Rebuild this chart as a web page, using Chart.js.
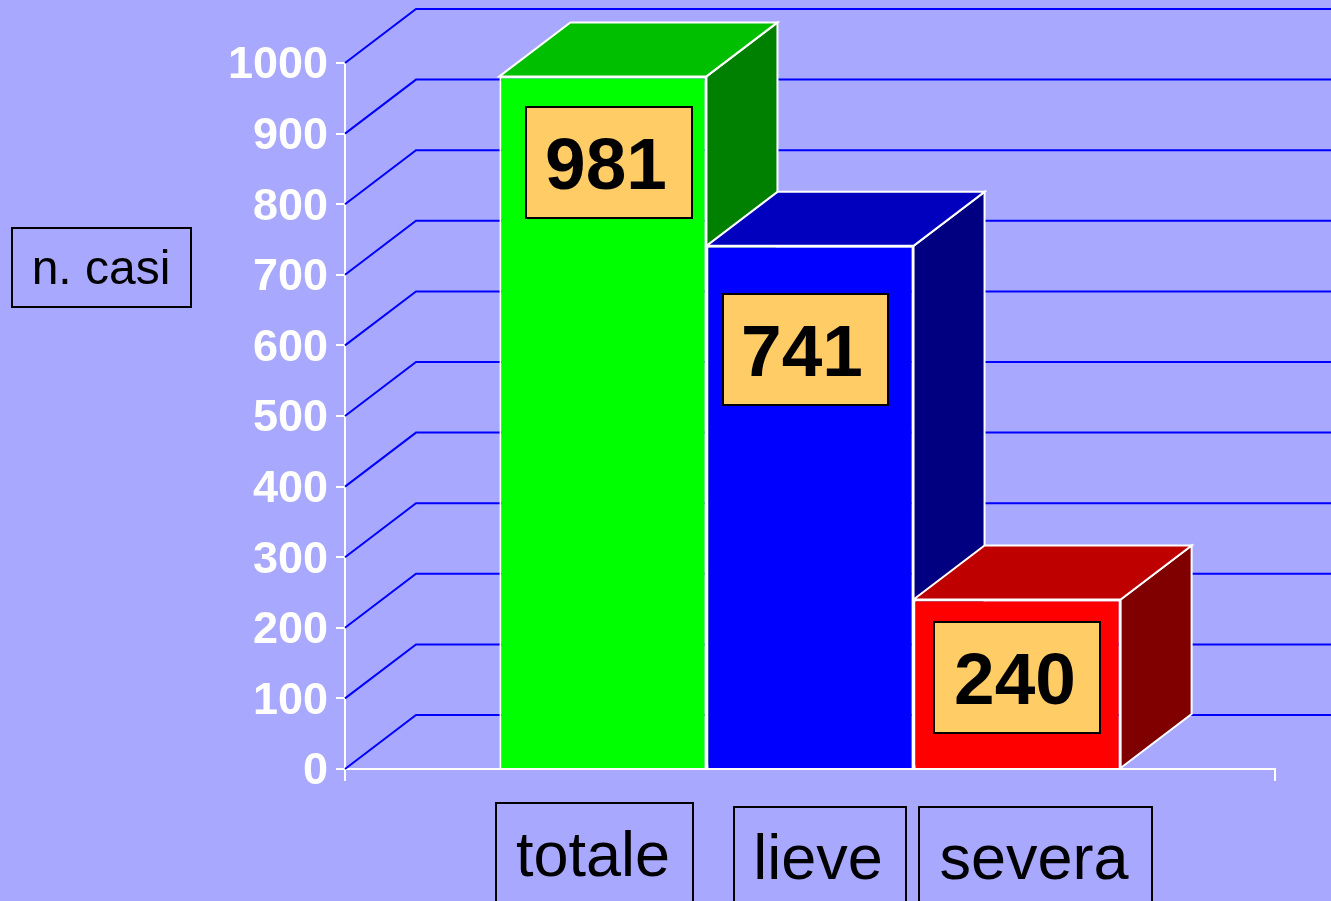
<!DOCTYPE html>
<html lang="it">
<head>
<meta charset="utf-8">
<title>n. casi</title>
<script src="https://cdn.jsdelivr.net/npm/chart.js@4/dist/chart.umd.min.js"></script>
<style>
    html, body { margin: 0; padding: 0; background: #a8a8ff; overflow: hidden; }
    canvas { display: block; }
</style>
</head>
<body>
<canvas id="myChart" width="1331" height="901"></canvas>
<script>
// chart values
const categories = ['casi'];
const seriesNames = ['totale', 'lieve', 'severa'];
const seriesValues = [981, 741, 240];
const axisTitle = 'n. casi';

// colours of each bar: front, top and side
const frontColors = ['#00ff00', '#0000ff', '#ff0000'];
const topColors = ['#00be00', '#0000be', '#be0000'];
const sideColors = ['#008000', '#000080', '#800000'];

// how far the 3d walls go back, in pixels
const depthX = 71;
const depthY = 54;

// text boxes that sit on top of the chart: x, y, w, h, text baseline
const valueBoxes = [
    { x: 526, y: 107, w: 166, h: 111, tx: 606, ty: 189 },
    { x: 723, y: 294, w: 165, h: 111, tx: 802, ty: 376 },
    { x: 934, y: 622, w: 166, h: 111, tx: 1015, ty: 704 }
];
const nameBoxes = [
    { x: 496, y: 803, w: 197, h: 110, tx: 593, ty: 876 },
    { x: 734, y: 807, w: 172, h: 106, tx: 818, ty: 879 },
    { x: 919, y: 807, w: 233, h: 106, tx: 1034, ty: 879 }
];

/**
 * Draw a filled polygon with a white edge.
 */
function drawFace(ctx, points, color) {
    ctx.beginPath();
    points.forEach((p, i) => i ? ctx.lineTo(p[0], p[1]) : ctx.moveTo(p[0], p[1]));
    ctx.closePath();
    ctx.fillStyle = color;
    ctx.fill();
    ctx.lineWidth = 2;
    ctx.strokeStyle = '#ffffff';
    ctx.stroke();
}

/**
 * Draw a box with a black edge and centered text.
 */
function drawBox(ctx, box, text, fill, font) {
    if (fill) {
        ctx.fillStyle = fill;
        ctx.fillRect(box.x, box.y, box.w, box.h);
    }
    ctx.lineWidth = 2;
    ctx.strokeStyle = '#000000';
    ctx.strokeRect(box.x, box.y, box.w, box.h);
    ctx.font = font;
    ctx.fillStyle = '#000000';
    ctx.textAlign = 'center';
    ctx.textBaseline = 'alphabetic';
    ctx.fillText(text, box.tx, box.ty);
}

// slanted grid lines and the top and side of every bar
const depthPlugin = {
    id: 'depth',
    beforeDatasetsDraw(chart) {
        const ctx = chart.ctx;
        const yScale = chart.scales.y;
        const left = chart.chartArea.left;

        ctx.save();
        ctx.lineWidth = 2;
        ctx.strokeStyle = '#0000ff';
        for (const tick of yScale.ticks) {
            const y = yScale.getPixelForValue(tick.value);
            ctx.beginPath();
            ctx.moveTo(left, y);
            ctx.lineTo(left + depthX, y - depthY);
            ctx.lineTo(chart.width, y - depthY);
            ctx.stroke();
        }

        seriesValues.forEach((value, i) => {
            const bar = chart.getDatasetMeta(i).data[0];
            const x1 = bar.x - bar.width / 2;
            const x2 = bar.x + bar.width / 2;
            const top = bar.y;
            const base = bar.base;
            drawFace(ctx, [[x2, top], [x2 + depthX, top - depthY], [x2 + depthX, base - depthY], [x2, base]], sideColors[i]);
            drawFace(ctx, [[x1, top], [x1 + depthX, top - depthY], [x2 + depthX, top - depthY], [x2, top]], topColors[i]);
        });
        ctx.restore();
    },
    afterDraw(chart) {
        const ctx = chart.ctx;
        ctx.save();
        seriesValues.forEach((value, i) => {
            drawBox(ctx, valueBoxes[i], String(value), '#ffcc66', 'bold 73px "Liberation Sans"');
        });
        seriesNames.forEach((name, i) => {
            drawBox(ctx, nameBoxes[i], name, null, '63px "Liberation Sans"');
        });
        drawBox(ctx, { x: 12, y: 228, w: 179, h: 79, tx: 101, ty: 284 }, axisTitle, null, '48px "Liberation Sans"');
        ctx.restore();
    }
};

// get the canvas context
const ctx = document.getElementById('myChart').getContext('2d');

// initialize Chart.js with the context
new Chart(ctx, {
    type: 'bar',
    plugins: [depthPlugin],
    data: {
        labels: categories,
        datasets: seriesNames.map((name, i) => ({
            label: name,
            data: [seriesValues[i]],
            backgroundColor: frontColors[i],
            borderColor: '#ffffff',
            borderWidth: 2,
            borderSkipped: 'bottom',
            categoryPercentage: 0.668,
            barPercentage: 1
        }))
    },
    options: {
        responsive: false,
        animation: false,
        layout: { padding: { left: 0, top: 63, right: 56, bottom: 132 } },
        plugins: {
            legend: { display: false },
            tooltip: { enabled: false }
        },
        scales: {
            x: {
                z: 1,
                afterFit(scale) { scale.height = 0; },
                grid: { offset: true, drawOnChartArea: false, color: '#ffffff', lineWidth: 2, tickLength: 12 },
                border: { color: '#ffffff', width: 2 },
                ticks: { display: false }
            },
            y: {
                min: 0,
                max: 1000,
                afterFit(scale) { scale.width = 345; },
                grid: { drawOnChartArea: false, color: '#ffffff', lineWidth: 2, tickLength: 9 },
                border: { color: '#ffffff', width: 2 },
                ticks: {
                    stepSize: 100,
                    color: '#ffffff',
                    padding: 8,
                    labelOffset: 3,
                    // plain numbers, no thousands separator
                    callback: value => String(value),
                    font: { family: '"Liberation Sans"', size: 45, weight: 'bold' }
                }
            }
        }
    }
});
</script>
</body>
</html>
